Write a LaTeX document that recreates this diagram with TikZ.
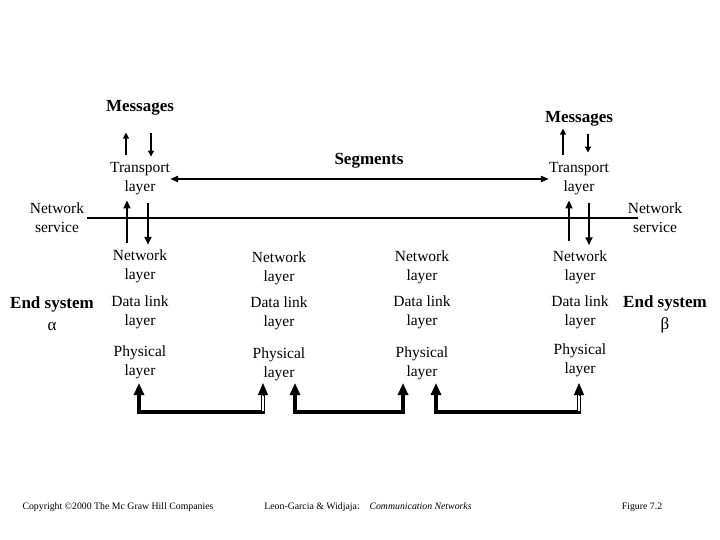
\documentclass[tikz,border=0pt]{standalone}
\usepackage{fontspec}
\setmainfont{Liberation Serif}
\usetikzlibrary{arrows.meta,calc}
\begin{document}
\begin{tikzpicture}[x=1pt,y=-1pt,
 lay/.style={font=\fontsize{15.5}{19}\selectfont, align=center, inner sep=0pt},
 big/.style={font=\fontsize{17}{22}\selectfont\bfseries, align=center, inner sep=0pt},
 foot/.style={font=\fontsize{9.8}{11}\selectfont, inner sep=0pt},
 thinarr/.style={line width=1.3pt, -{Triangle[length=6pt,width=6pt]}},
 medarr/.style={line width=2.2pt, -{Triangle[length=8pt,width=7pt]}},
 segarr/.style={line width=2pt, {Triangle[length=8pt,width=6pt]}-{Triangle[length=8pt,width=6pt]}},
 rulel/.style={line width=2pt},
 bus/.style={line width=4pt, line join=miter},
 dbl/.style={double, line width=1pt, double distance=1.6pt},
 bustip/.style={-{Triangle[length=12pt,width=10pt]}, line width=1pt}
]
\useasboundingbox (0,0) rectangle (720,540);
\fill[white] (0,0) rectangle (720,540);

% top labels
\node[big] (msgL) at (140,108) {Messages};
\node[big] (msgR) at (579,119) {Messages};
\node[big] (seg) at (369,161) {Segments};
\node[lay] (trL) at (140,179) {Transport\\layer};
\node[lay] (trR) at (579,179) {Transport\\layer};
\node[lay] (nsL) at (57,218) {Network\\service};
\node[lay] (nsR) at (655,218) {Network\\service};

% layer stacks
\node[lay] (nw1) at (140,266.5) {Network\\layer};
\node[lay] (nw2) at (279,268.5) {Network\\layer};
\node[lay] (nw3) at (422,267) {Network\\layer};
\node[lay] (nw4) at (580,267) {Network\\layer};
\node[lay] (dl1) at (140,312.5) {Data link\\layer};
\node[lay] (dl2) at (279,313.5) {Data link\\layer};
\node[lay] (dl3) at (422,312) {Data link\\layer};
\node[lay] (dl4) at (580,312) {Data link\\layer};
\node[lay] (ph1) at (140,362.5) {Physical\\layer};
\node[lay] (ph2) at (279,364.5) {Physical\\layer};
\node[lay] (ph3) at (422,363.5) {Physical\\layer};
\node[lay] (ph4) at (580,360.5) {Physical\\layer};

\node[big] (esA) at (52,314) {End system\\{\normalfont α}};
\node[big] (esB) at (665,314) {End system\\{\normalfont β}};

% footer
\node[foot] (cr) at (118,507) {Copyright ©2000 The Mc Graw Hill Companies};
\node[foot] (au) at (368,507) {Leon-Garcia \& Widjaja:\quad\textit{Communication Networks}};
\node[foot] (fig) at (642,507) {Figure 7.2};

% message arrows
\draw[thinarr] ($(trL.north)+(-14,-8)$) -- ($(msgL.south)+(-14,17)$);
\draw[thinarr] ($(msgL.south)+(11,17)$) -- ($(trL.north)+(11,-6)$);
\draw[thinarr] ($(trR.north)+(-16,-8)$) -- ($(msgR.south)+(-16,2)$);
\draw[thinarr] ($(msgR.south)+(9,7)$) -- ($(trR.north)+(9,-10)$);

% segments
\draw[segarr] (trL) -- (trR);

% network service line
\draw[rulel] ($(nsL.east)+(3,0)$) -- ($(nsR.west)+(10,0)$);

% transport <-> network
\draw[medarr] ($(nw1.north)+(-13,-7)$) -- ($(trL.south)+(-13,5)$);
\draw[medarr] ($(trL.south)+(8,8)$) -- ($(nw1.north)+(8,-5)$);
\draw[medarr] ($(nw4.north)+(-11,-9)$) -- ($(trR.south)+(-10,5)$);
\draw[medarr] ($(trR.south)+(10,8)$) -- ($(nw4.north)+(9,-5)$);

% physical links
\coordinate (p1) at (139,383);
\coordinate (p2) at (263,383);
\coordinate (p3) at (295,383);
\coordinate (p4) at (403,383);
\coordinate (p5) at (436,383);
\coordinate (p6) at (579,383);

\draw[bus, {Triangle[length=12pt,width=10pt]}-] (p1) |- ($(p2)+(2,29)$);
\draw[dbl] ($(p2)+(0,28)$) -- ($(p2)+(0,11)$);
\draw[bustip] ($(p2)+(0,12)$) -- (p2);

\draw[bus, {Triangle[length=12pt,width=10pt]}-{Triangle[length=12pt,width=10pt]}] (p3) |- ($(p4)+(0,29)$) -- (p4);

\draw[bus, {Triangle[length=12pt,width=10pt]}-] (p5) |- ($(p6)+(2,29)$);
\draw[dbl] ($(p6)+(0,28)$) -- ($(p6)+(0,11)$);
\draw[bustip] ($(p6)+(0,12)$) -- (p6);
\end{tikzpicture}
\end{document}
